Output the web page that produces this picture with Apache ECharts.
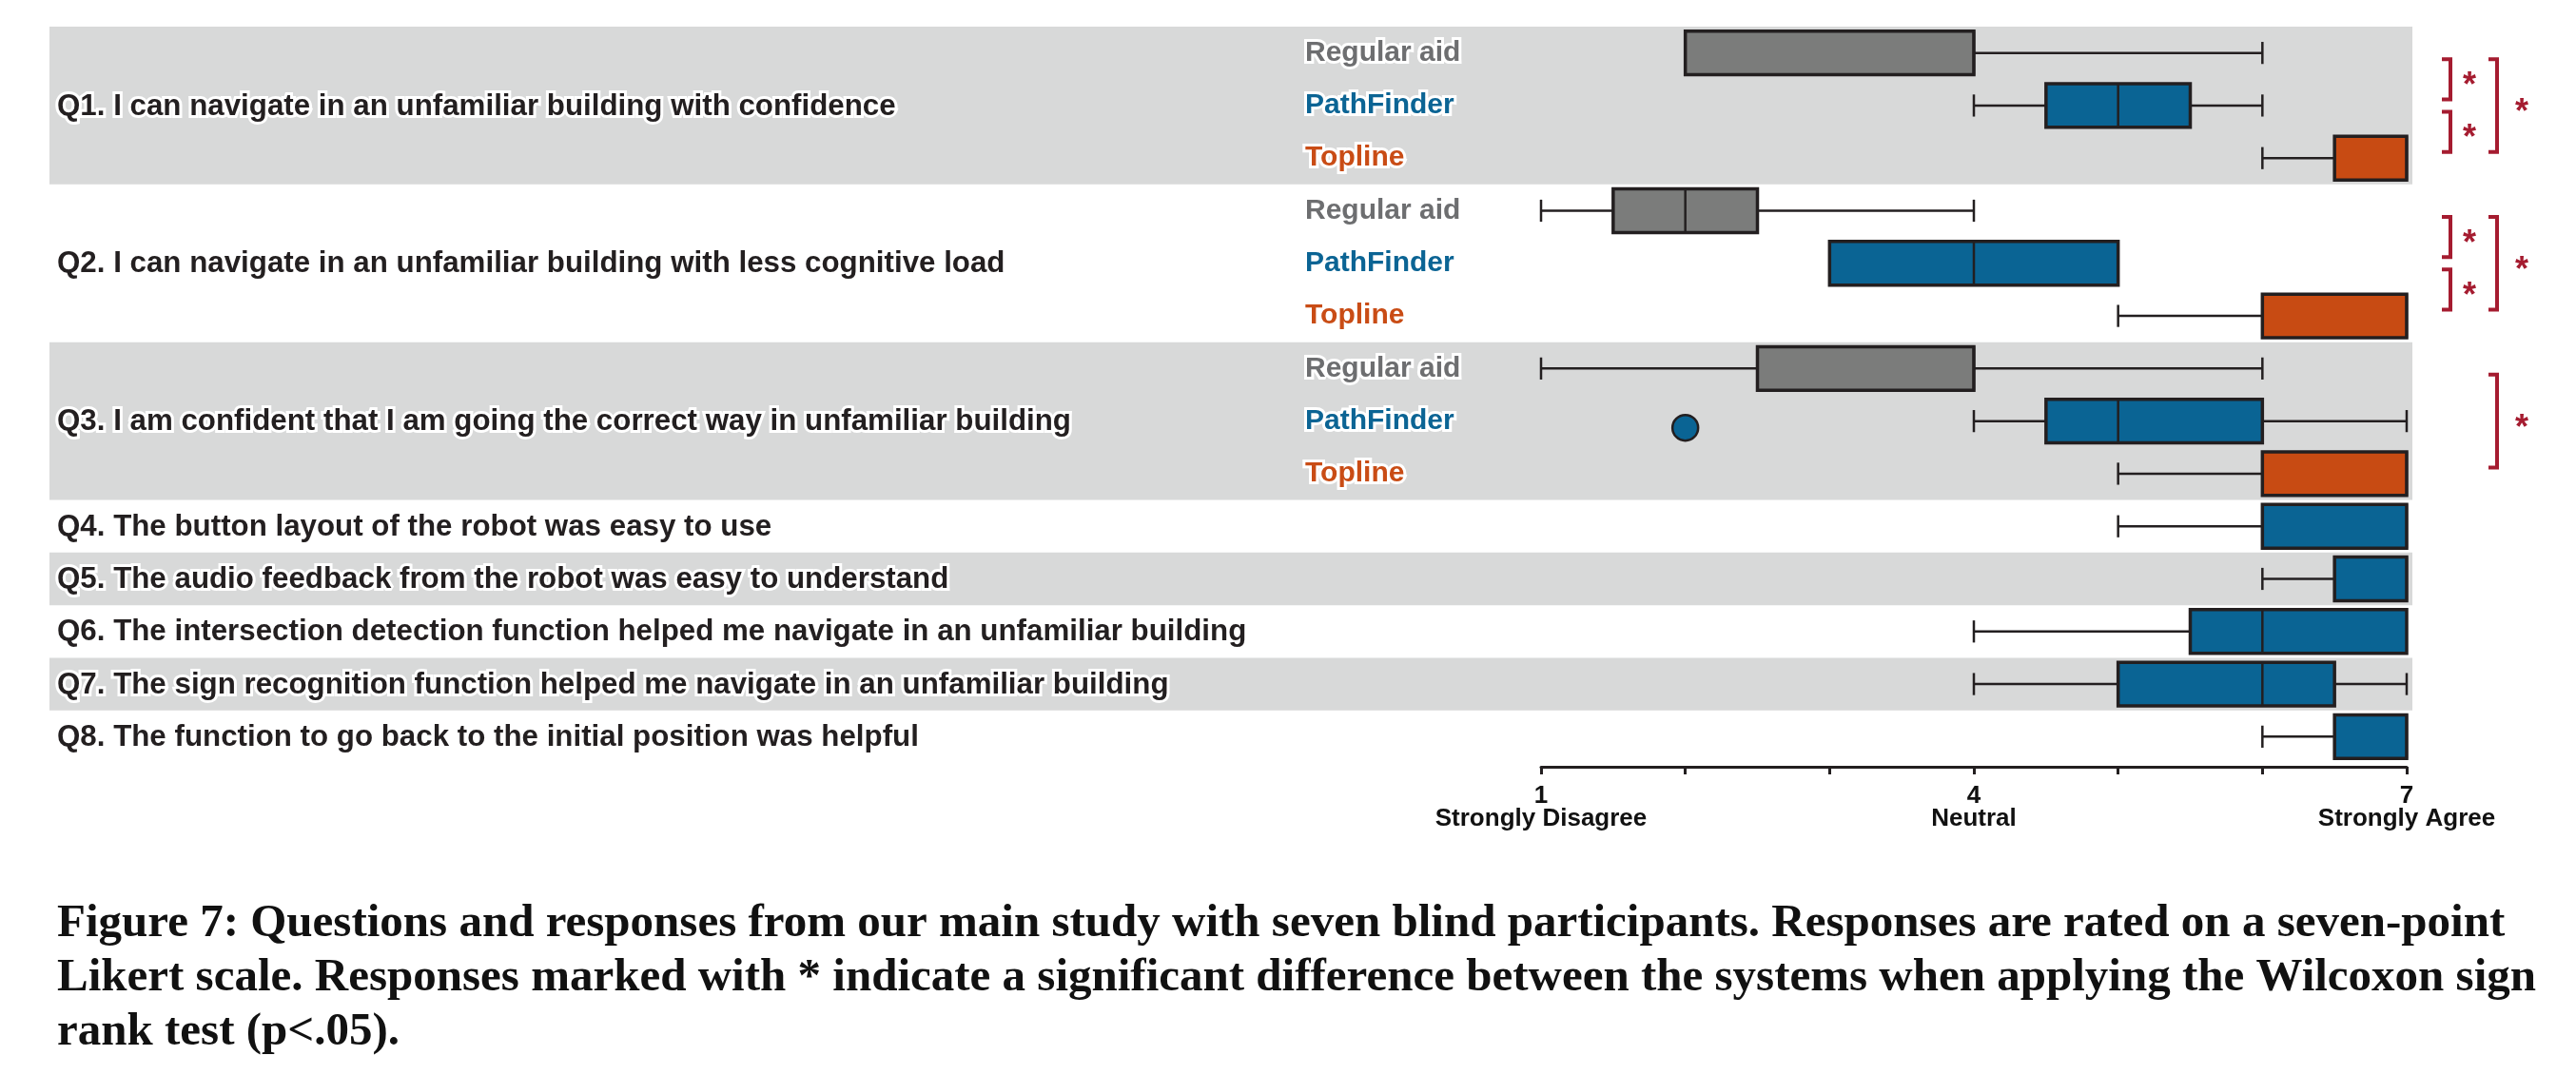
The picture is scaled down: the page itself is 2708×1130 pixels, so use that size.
<!DOCTYPE html>
<html><head><meta charset="utf-8">
<script src="https://cdn.jsdelivr.net/npm/echarts@6/dist/echarts.min.js"></script>
<style>html,body{margin:0;padding:0;background:#fff}#c{width:2708px;height:1130px}</style>
</head><body><div id="c"></div>
<script>
// ---------------- data ----------------
const questions = [
  'Q1. I can navigate in an unfamiliar building with confidence',
  'Q2. I can navigate in an unfamiliar building with less cognitive load',
  'Q3. I am confident that I am going the correct way in unfamiliar building',
  'Q4. The button layout of the robot was easy to use',
  'Q5. The audio feedback from the robot was easy to understand',
  'Q6. The intersection detection function helped me navigate in an unfamiliar building',
  'Q7. The sign recognition function helped me navigate in an unfamiliar building',
  'Q8. The function to go back to the initial position was helpful'
];
const systems = ['Regular aid', 'PathFinder', 'Topline'];
// five-number summaries [min, Q1, median, Q3, max]; order: Regular aid, PathFinder, Topline
const statsQ1 = [[2, 2, 4, 4, 6], [4, 4.5, 5, 5.5, 6], [6, 6.5, 7, 7, 7]];
const statsQ2 = [[1, 1.5, 2, 2.5, 4], [3, 3, 4, 5, 5], [5, 6, 7, 7, 7]];
const statsQ3 = [[1, 2.5, 4, 4, 6], [4, 4.5, 5, 6, 7], [5, 6, 7, 7, 7]];
// Q4..Q8 : PathFinder only
const statsQ4toQ8 = [[5, 6, 7, 7, 7], [6, 6.5, 7, 7, 7], [4, 5.5, 6, 7, 7], [4, 5, 6, 6.5, 7], [6, 6.5, 7, 7, 7]];
// outliers: [questionIndex, systemIndex, value]
const outliers = [[2, 1, 2]];
// significance brackets: [questionIndex, systemA, systemB, level(0 inner, 1 outer)]
const significance = [[0, 0, 1, 0], [0, 1, 2, 0], [0, 0, 2, 1], [1, 0, 1, 0], [1, 1, 2, 0], [1, 0, 2, 1], [2, 0, 2, 1]];
const tickValues = [1, 4, 7];
const tickNames = ['Strongly Disagree', 'Neutral', 'Strongly Agree'];

// ---------------- styles ----------------
const BOX_COLORS = ['#7b7c7b', '#0a6494', '#c84b13'];
const LABEL_COLORS = ['#6d6e70', '#0b6494', '#c94c15'];
const INK = '#231f20';
const BAND = '#d8d9d9';
const RED = '#a51c30';
const BAND_LEFT = 52, Q_TEXT_X = 60, SYS_TEXT_X = 1372;

// ---------------- rows ----------------
const rows = [];
[statsQ1, statsQ2, statsQ3].forEach((st, q) => st.forEach((v, s) => rows.push({ q, s, v })));
statsQ4toQ8.forEach((v, i) => rows.push({ q: i + 3, s: 1, v, single: true }));
const rowOf = (q, s) => rows.findIndex(r => r.q === q && (r.single || r.s === s));

const boxData = rows.map((r, i) => ({ value: [i].concat(r.v), itemStyle: { color: BOX_COLORS[r.s] } }));
const bandData = questions.map((_, q) => {
  const idx = rows.map((r, i) => r.q === q ? i : -1).filter(i => i >= 0);
  return [1, idx[0], idx[idx.length - 1], q];
});
const outlierData = outliers.map(o => [o[2], rowOf(o[0], o[1])]);
const sigData = significance.map(s => [7, rowOf(s[0], s[1]), rowOf(s[0], s[2]), s[3]]);

const chart = echarts.init(document.getElementById('c'));
chart.setOption({
  animation: false,
  backgroundColor: '#fff',
  title: {
    text: 'Figure 7: Questions and responses from our main study with seven blind participants. Responses are rated on a seven-point\nLikert scale. Responses marked with * indicate a significant difference between the systems when applying the Wilcoxon sign\nrank test (p<.05).',
    left: 60, top: 943, padding: 0,
    textStyle: { fontFamily: 'Liberation Serif', fontWeight: 'bold', fontSize: 49, lineHeight: 57, color: '#111' }
  },
  grid: { left: 1620, right: 178, top: 28, bottom: 328 },
  xAxis: {
    type: 'value', min: 1, max: 7, interval: 1, offset: 4,
    axisLine: { show: true, lineStyle: { color: INK, width: 3 } },
    axisTick: { show: true, length: 8, lineStyle: { color: INK, width: 3 } },
    splitLine: { show: false },
    axisLabel: {
      showMinLabel: true, showMaxLabel: true, margin: 19,
      fontFamily: 'Liberation Sans', fontWeight: 'bold', fontSize: 26, lineHeight: 24, color: '#111',
      formatter: v => { const k = tickValues.indexOf(v); return k < 0 ? '' : v + '\n' + tickNames[k]; }
    }
  },
  yAxis: {
    type: 'category', inverse: true, data: rows.map((r, i) => 'r' + i), show: false
  },
  series: [
    {
      type: 'custom', clip: false, z: 1, silent: true,
      encode: { x: 0, y: 1 },
      data: bandData,
      renderItem: (params, api) => {
        const first = api.value(1), last = api.value(2), q = api.value(3);
        const h = api.size([0, 1])[1];
        const top = api.coord([1, first])[1] - h / 2;
        const bottom = api.coord([1, last])[1] + h / 2;
        const right = api.coord([7, first])[0] + 6;
        const children = [];
        if (q % 2 === 0) children.push({ type: 'rect', shape: { x: BAND_LEFT, y: top, width: right - BAND_LEFT, height: bottom - top }, style: { fill: BAND } });
        children.push({ type: 'text', style: { text: questions[q], x: Q_TEXT_X, y: (top + bottom) / 2 + 1, fill: INK, stroke: '#fff', lineWidth: 6, fontFamily: 'Liberation Sans', fontWeight: 'bold', fontSize: 31.3, align: 'left', verticalAlign: 'middle' } });
        if (last > first) {
          for (let r = first; r <= last; r++) {
            const s = rows[r].s;
            children.push({ type: 'text', style: { text: systems[s], x: SYS_TEXT_X, y: api.coord([1, r])[1], fill: LABEL_COLORS[s], stroke: '#fff', lineWidth: 6, fontFamily: 'Liberation Sans', fontWeight: 'bold', fontSize: 30, align: 'left', verticalAlign: 'middle' } });
          }
        }
        return { type: 'group', children };
      }
    },
    {
      type: 'custom', clip: false, z: 3, silent: true,
      encode: { y: 0, x: [1, 2, 3, 4, 5] },
      data: boxData,
      renderItem: (params, api) => {
        const row = api.value(0);
        const X = v => api.coord([v, row])[0];
        const y = api.coord([1, row])[1];
        const h = api.size([0, 1])[1];
        const bh = h * 0.83, ch = h * 0.42;
        const mn = api.value(1), q1 = api.value(2), md = api.value(3), q3 = api.value(4), mx = api.value(5);
        const ls = { stroke: INK, lineWidth: 2.5 };
        const children = [];
        if (mn < q1) {
          children.push({ type: 'line', shape: { x1: X(mn), y1: y, x2: X(q1), y2: y }, style: ls });
          children.push({ type: 'line', shape: { x1: X(mn), y1: y - ch / 2, x2: X(mn), y2: y + ch / 2 }, style: ls });
        }
        if (mx > q3) {
          children.push({ type: 'line', shape: { x1: X(q3), y1: y, x2: X(mx), y2: y }, style: ls });
          children.push({ type: 'line', shape: { x1: X(mx), y1: y - ch / 2, x2: X(mx), y2: y + ch / 2 }, style: ls });
        }
        children.push({ type: 'rect', shape: { x: X(q1), y: y - bh / 2, width: X(q3) - X(q1), height: bh }, style: { fill: api.visual('color'), stroke: INK, lineWidth: 3.5 } });
        children.push({ type: 'line', shape: { x1: X(md), y1: y - bh / 2, x2: X(md), y2: y + bh / 2 }, style: { stroke: INK, lineWidth: 2.5 } });
        return { type: 'group', children };
      }
    },
    {
      type: 'scatter', z: 4, silent: true,
      data: outlierData, symbol: 'circle', symbolSize: 27, symbolOffset: [0, 7],
      itemStyle: { color: BOX_COLORS[1], borderColor: INK, borderWidth: 2.5, opacity: 1 }
    },
    {
      type: 'custom', clip: false, z: 4, silent: true,
      encode: { x: 0, y: 1 },
      data: sigData,
      renderItem: (params, api) => {
        const a = api.value(1), b = api.value(2), lvl = api.value(3);
        const x7 = api.coord([7, a])[0];
        const yA = api.coord([7, a])[1] + 6.5, yB = api.coord([7, b])[1] - 6.5;
        const vx = x7 + (lvl ? 95 : 46);
        const sx = vx + (lvl ? 26 : 20);
        return { type: 'group', children: [
          { type: 'polyline', shape: { points: [[vx - 9, yA], [vx, yA], [vx, yB], [vx - 9, yB]] }, style: { stroke: RED, lineWidth: 4, fill: null, lineJoin: 'miter' } },
          { type: 'text', style: { text: '*', x: sx, y: (yA + yB) / 2 + 8, fill: RED, fontFamily: 'Liberation Sans', fontWeight: 'bold', fontSize: 36, align: 'center', verticalAlign: 'middle' } }
        ] };
      }
    }
  ]
});
</script></body></html>
